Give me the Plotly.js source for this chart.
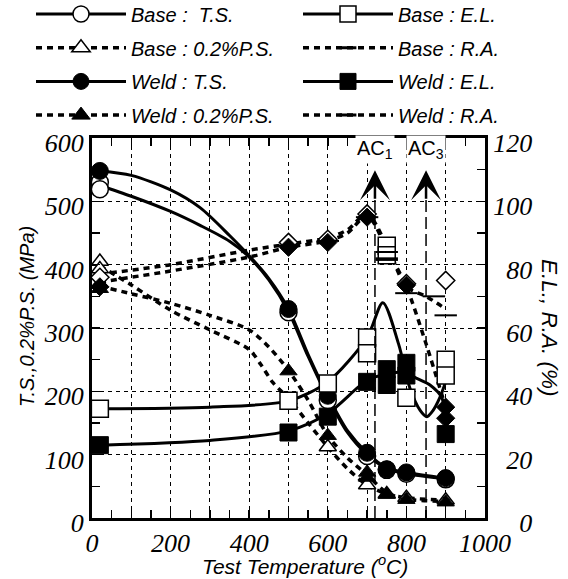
<!DOCTYPE html>
<html>
<head>
<meta charset="utf-8">
<script src="https://cdn.plot.ly/plotly-3.0.1.min.js"></script>
<style>html,body{margin:0;padding:0;background:#fff;}#chart{width:568px;height:579px;}</style>
</head>
<body>
<div id="chart"></div>
<script>
// ---------- DATA ----------
// Tick labels
var xTickVals = [0, 100, 200, 300, 400, 500, 600, 700, 800, 900, 1000];
var xTickLabels = ['0', '', '200', '', '400', '', '600', '', '800', '', '1000'];
var yTickVals = [0, 100, 200, 300, 400, 500, 600];
var yTickLabels = ['0', '100', '200', '300', '400', '500', '600'];
var y2TickVals = [0, 20, 40, 60, 80, 100, 120];
var y2TickLabels = ['\u2007\u20070', '\u200720', '\u200740', '\u200760', '\u200780', '100', '120'];

// Legend names
var seriesNames = ['Base :  T.S.', 'Base : 0.2%P.S.', 'Weld : T.S.', 'Weld : 0.2%P.S.',
                   'Base : E.L.', 'Base : R.A.', 'Weld : E.L.', 'Weld : R.A.'];

// Measured points (MPa, left axis)
var baseTS_T = [20, 20, 500, 600, 700, 750, 800, 900];
var baseTS_V = [530, 519, 325, 186, 98, 76, 70, 61];
var weldTS_T = [20, 500, 600, 700, 750, 800, 900];
var weldTS_V = [548, 330, 193, 103, 77, 72, 63];
var basePS_T = [20, 20, 500, 600, 700, 750, 800, 900];
var basePS_V = [405, 393, 186, 112, 52, 38, 32, 28];
var weldPS_T = [20, 20, 500, 600, 700, 700, 750, 800, 900];
var weldPS_V = [370, 362, 232, 130, 72, 64, 37, 29, 25];

// Measured points (%, right axis)
var baseEL_T = [20, 500, 600, 700, 700, 750, 750, 800, 900, 900];
var baseEL_V = [34.5, 37, 42.5, 57, 52, 86, 83, 38, 50, 45];
var weldEL_T = [20, 500, 600, 700, 750, 750, 800, 800, 900];
var weldEL_V = [23, 27, 32, 43, 47, 42, 49, 45, 26.5];
var baseRA_T = [20, 500, 600, 700, 800, 900];
var baseRA_V = [76, 87, 88, 96, 74, 75];
var baseRAdash_T = [500, 600, 700, 750, 750, 750, 800, 870, 900];
var baseRAdash_V = [86, 87.5, 95, 84, 82, 81.5, 71, 70, 64];
var weldRA_T = [20, 500, 600, 700, 800, 900, 900];
var weldRA_V = [73, 85.5, 87, 95, 73.5, 35, 31.5];

// Fitted curves as drawn in the picture
var baseTSfit_T = [20, 100, 200, 275, 350, 400, 450, 500, 550, 600, 650, 700, 750, 800, 900];
var baseTSfit_V = [525, 508, 484, 462, 437, 412, 376, 326, 255, 190, 135, 100, 78, 70, 62];
var weldTSfit_T = [20, 100, 200, 275, 350, 400, 450, 500, 550, 600, 650, 700, 750, 800, 900];
var weldTSfit_V = [548, 541, 518, 490, 446, 414, 378, 330, 258, 193, 138, 103, 79, 72, 63];
var basePSfit_T = [20, 100, 200, 300, 400, 430, 460, 500, 550, 600, 650, 700, 750, 800, 900];
var basePSfit_V = [398, 368, 328, 297, 266, 242, 214, 189, 150, 112, 78, 52, 38, 32, 28];
var weldPSfit_T = [20, 100, 200, 300, 400, 450, 500, 550, 600, 650, 700, 750, 800, 900];
var weldPSfit_V = [366, 354, 339, 320, 297, 270, 233, 186, 130, 95, 68, 40, 30, 26];
var baseELfit_T = [20, 300, 500, 600, 700, 740, 780, 809, 835, 852, 868, 885, 900];
var baseELfit_V = [34.5, 35, 37, 43, 57, 68, 55, 41, 34, 32, 34, 38, 43];
var weldELfit_T = [20, 300, 500, 600, 700, 750, 800, 820, 860, 890, 900];
var weldELfit_V = [23, 24.5, 27.5, 33, 43.5, 45.5, 46, 44.5, 42, 38, 28];
var baseRAfit_T = [20, 200, 400, 500, 600, 650, 700, 750, 800, 850, 900];
var baseRAfit_V = [77, 80, 84.6, 86.5, 88.5, 91, 96, 86, 73, 70, 66];
var weldRAfit_T = [20, 200, 400, 500, 600, 650, 700, 750, 800, 850, 900];
var weldRAfit_V = [74.5, 78, 82.4, 85.5, 87.5, 90, 95.5, 85, 73, 55, 35];

// Transformation temperatures
var acTemps = [720, 850];
var acLabels = ['AC<sub>1</sub>', 'AC<sub>3</sub>'];

// Axis titles
var xTitle = 'Test Temperature (<sup>o</sup>C)';
var yTitle = 'T.S.,0.2%P.S. (MPa)';
var y2Title = 'E.L., R.A. (%)';

// ---------- STYLE ----------
var K = '#000';
var solid = {color: K, width: 3};
var dotted = {color: K, width: 3.5, dash: '6px,5px'};
var openMk = function (sym, sz) { return {symbol: sym, size: sz, color: '#fff', line: {color: K, width: 1.5}}; };
var fillMk = function (sym, sz) { return {symbol: sym, size: sz, color: K, line: {color: K, width: 1}}; };
var ital = function (arr) { return arr.map(function (s) { return s === '' ? '' : '<i>' + s + '</i>'; }); };

var traces = [];
function curve(x, y, ln, axis) {
  traces.push({x: x, y: y, mode: 'lines', line: Object.assign({shape: 'spline', smoothing: 0.8}, ln),
               yaxis: axis, showlegend: false, hoverinfo: 'skip'});
}
function pts(x, y, mk, axis) {
  traces.push({x: x, y: y, mode: 'markers', marker: mk, yaxis: axis, showlegend: false, hoverinfo: 'skip'});
}
// curves
curve(baseTSfit_T, baseTSfit_V, solid, 'y');
curve(weldTSfit_T, weldTSfit_V, solid, 'y');
curve(basePSfit_T, basePSfit_V, dotted, 'y');
curve(weldPSfit_T, weldPSfit_V, dotted, 'y');
// markers (left axis)
pts(baseTS_T, baseTS_V, openMk('circle', 17), 'y');
pts(basePS_T, basePS_V, openMk('triangle-up', 15), 'y');
pts(weldTS_T, weldTS_V, fillMk('circle', 17), 'y');
pts(weldPS_T, weldPS_V, fillMk('triangle-up', 15), 'y');
// right axis
curve(baseELfit_T, baseELfit_V, solid, 'y2');
curve(weldELfit_T, weldELfit_V, solid, 'y2');
curve(baseRAfit_T, baseRAfit_V, dotted, 'y2');
curve(weldRAfit_T, weldRAfit_V, dotted, 'y2');
pts(baseRA_T, baseRA_V, openMk('diamond', 14), 'y2');
pts(baseEL_T, baseEL_V, openMk('square', 17), 'y2');
pts(weldEL_T, weldEL_V, fillMk('square', 17), 'y2');
pts(weldRA_T, weldRA_V, fillMk('diamond', 14), 'y2');
pts(baseRAdash_T, baseRAdash_V, {symbol: 'line-ew', size: 16, line: {color: K, width: 2}}, 'y2');

// legend entries
var legStyles = [
  {ln: solid, mk: openMk('circle', 16), lg: 'legend'},
  {ln: dotted, mk: openMk('triangle-up', 16), lg: 'legend'},
  {ln: solid, mk: fillMk('circle', 16), lg: 'legend'},
  {ln: dotted, mk: fillMk('triangle-up', 16), lg: 'legend'},
  {ln: solid, mk: openMk('square', 16), lg: 'legend2'},
  {ln: dotted, mk: {symbol: 'line-ew', size: 12, line: {color: K, width: 3}}, lg: 'legend2'},
  {ln: solid, mk: fillMk('square', 16), lg: 'legend2'},
  {ln: dotted, mk: {symbol: 'line-ew', size: 12, line: {color: K, width: 3}}, lg: 'legend2'}
];
seriesNames.forEach(function (nm, i) {
  var s = legStyles[i];
  traces.push({x: [null], y: [null], name: nm, mode: 'lines+markers', line: s.ln, marker: s.mk,
               legend: s.lg, legendgroup: 'g' + i, showlegend: true, hoverinfo: 'skip'});
});

var tickFont = {family: 'Liberation Serif', size: 26, style: 'italic', color: K};
var titleFont = {family: 'Liberation Sans', size: 20, style: 'italic', color: K};
var gridCommon = {showgrid: true, gridcolor: K, gridwidth: 1, griddash: '4px,4px',
  showline: true, linewidth: 3, linecolor: K, mirror: 'allticks', zeroline: false,
  ticks: 'inside', ticklen: 8, tickwidth: 1.5, tickcolor: K, tickfont: tickFont, automargin: false};

var shapes = acTemps.map(function (t) {
  return {type: 'line', xref: 'x', yref: 'y', x0: t, x1: t, y0: 0, y1: 510,
          line: {color: K, width: 1.5, dash: '12px,5px'}};
});
var annotations = [];
acTemps.forEach(function (t, i) {
  annotations.push({x: t, y: 549, xref: 'x', yref: 'y', ax: 0, ay: 30, text: '', showarrow: true,
                    arrowhead: 3, arrowsize: 2, arrowwidth: 2.5, arrowcolor: K});
  annotations.push({x: t, y: 582, xref: 'x', yref: 'y', text: acLabels[i], showarrow: false,
                    font: {family: 'Liberation Sans', size: 20, color: K}, bgcolor: '#fff', borderpad: 1});
});
// axis titles placed as in the picture
annotations.push({x: (305 - 92) / 393, y: (518 - 565) / 380, xref: 'paper', yref: 'paper',
                  xanchor: 'center', yanchor: 'middle', text: xTitle, showarrow: false,
                  font: Object.assign({}, titleFont, {size: 21})});
annotations.push({x: (27 - 92) / 393, y: (518 - 317) / 380, xref: 'paper', yref: 'paper',
                  xanchor: 'center', yanchor: 'middle', text: yTitle, showarrow: false, textangle: -90, font: titleFont});
annotations.push({x: (550 - 92) / 393, y: (518 - 328) / 380, xref: 'paper', yref: 'paper',
                  xanchor: 'center', yanchor: 'middle', text: y2Title, showarrow: false, textangle: 90,
                  font: Object.assign({}, titleFont, {size: 22.5})});

var legendCommon = {xref: 'container', yref: 'container', xanchor: 'left', yanchor: 'middle',
    bgcolor: 'rgba(0,0,0,0)', font: {family: 'Liberation Sans', size: 20, style: 'italic', color: K},
    itemwidth: 90, tracegroupgap: 4.7, traceorder: 'grouped'};

var layout = {
  width: 568, height: 579,
  margin: {l: 92, r: 83, t: 138, b: 61, pad: 0, autoexpand: false},
  paper_bgcolor: '#fff', plot_bgcolor: '#fff',
  font: {family: 'Liberation Sans', color: K},
  hovermode: false,
  xaxis: Object.assign({}, gridCommon, {range: [0, 1000], tickvals: xTickVals, ticktext: ital(xTickLabels),
    tickangle: 0,
    minor: {dtick: 50, ticks: 'inside', ticklen: 8, tickwidth: 1.5, tickcolor: K, showgrid: false}}),
  yaxis: Object.assign({}, gridCommon, {range: [0, 600], tickvals: yTickVals, ticktext: ital(yTickLabels),
    ticklabelshift: 5,
    minor: {dtick: 50, ticks: 'inside', ticklen: 8, tickwidth: 1.5, tickcolor: K, showgrid: false}}),
  yaxis2: {overlaying: 'y', side: 'right', range: [0, 120], tickvals: y2TickVals, ticktext: ital(y2TickLabels),
    showgrid: false, zeroline: false, showline: true, linewidth: 3, linecolor: K, automargin: false,
    ticks: 'inside', ticklen: 8, tickwidth: 1.5, tickcolor: K, ticklabelshift: 5, tickfont: tickFont,
    minor: {dtick: 10, ticks: 'inside', ticklen: 8, tickwidth: 1.5, tickcolor: K, showgrid: false}},
  legend: Object.assign({}, legendCommon, {x: 31 / 568, y: 1 - 65 / 579}),
  legend2: Object.assign({}, legendCommon, {x: 298 / 568, y: 1 - 65 / 579}),
  shapes: shapes,
  annotations: annotations
};

Plotly.newPlot('chart', traces, layout, {staticPlot: true, displayModeBar: false});
</script>
</body>
</html>
